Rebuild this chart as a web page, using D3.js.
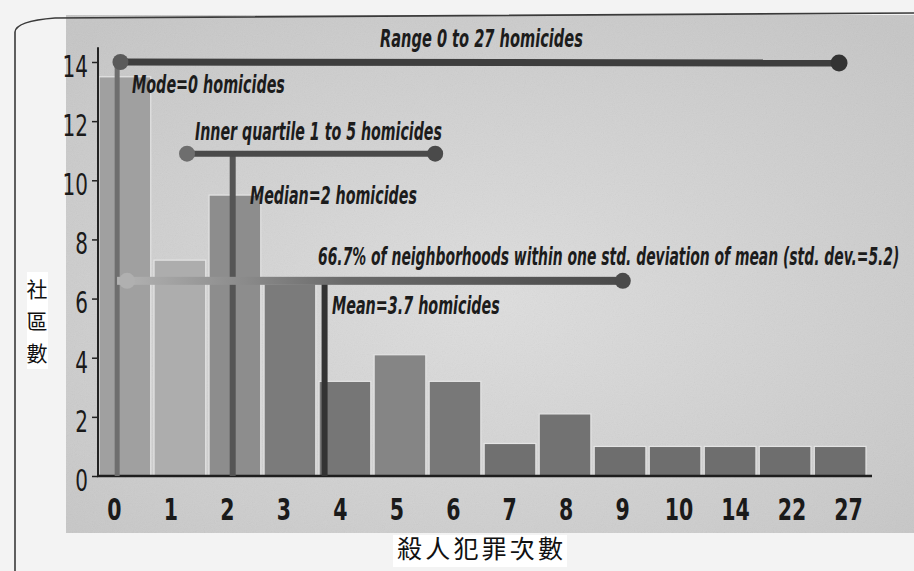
<!DOCTYPE html>
<html>
<head>
<meta charset="utf-8">
<script src="https://cdn.jsdelivr.net/npm/d3@7/dist/d3.min.js"></script>
<style>
  body { margin: 0; background: #f3f3f3; }
  svg { display: block; }
  .ann { font-family: "Liberation Sans Narrow", "DejaVu Sans Condensed", "Liberation Sans", sans-serif;
         font-weight: bold; font-style: italic; fill: #1c1c1c; font-size: 25px; }
  .num { font-family: "Liberation Sans Narrow", "DejaVu Sans Condensed", "Liberation Sans", sans-serif;
         fill: #1a1a1a; }
  .zh { font-family: "Noto Sans CJK TC", "Noto Sans CJK SC", sans-serif; fill: #111; }
</style>
</head>
<body>
<div class="chart"></div>
<script>
// homicides per neighborhood -> number of neighborhoods
var categories = ["0", "1", "2", "3", "4", "5", "6", "7", "8", "9", "10", "14", "22", "27"];
var counts = [13.5, 7.3, 9.5, 6.5, 3.2, 4.1, 3.2, 1.1, 2.1, 1, 1, 1, 1, 1];
var yTicks = [0, 2, 4, 6, 8, 10, 12, 14];

// annotation marks, in category-index units as printed in the picture
var rangeSpan = [-0.08, 12.98];
var modeAt = -0.14;
var quartileSpan = [1.13, 5.64];
var medianAt = 1.96;
var stdSpan = [0.04, 9.05];
var meanAt = 3.63;

var labels = {
  range: "Range 0 to 27 homicides",
  mode: "Mode=0 homicides",
  quartile: "Inner quartile 1 to 5 homicides",
  median: "Median=2 homicides",
  std: "66.7% of neighborhoods within one std. deviation of mean (std. dev.=5.2)",
  mean: "Mean=3.7 homicides"
};
var yTitle = ["社", "區", "數"];
var xTitle = "殺人犯罪次數";

var width = 914, height = 571;
var margin = {top: 62, right: 47, bottom: 95, left: 98};

var svg = d3.select("div.chart").append("svg")
    .attr("width", width)
    .attr("height", height);

var defs = svg.append("defs");
var panelGrad = defs.append("radialGradient")
    .attr("id", "panelGrad")
    .attr("cx", "50%").attr("cy", "55%").attr("r", "70%");
panelGrad.append("stop").attr("offset", "0%").attr("stop-color", "#dedede");
panelGrad.append("stop").attr("offset", "100%").attr("stop-color", "#c6c6c6");

var stdGrad = defs.append("linearGradient")
    .attr("id", "stdGrad")
    .attr("x1", "0%").attr("x2", "100%");
stdGrad.append("stop").attr("offset", "0%").attr("stop-color", "#b4b4b4");
stdGrad.append("stop").attr("offset", "45%").attr("stop-color", "#6a6a6a");
stdGrad.append("stop").attr("offset", "100%").attr("stop-color", "#4a4a4a");

var grain = defs.append("filter").attr("id", "grain");
grain.append("feTurbulence").attr("type", "fractalNoise")
    .attr("baseFrequency", 0.9).attr("numOctaves", 2).attr("result", "noise");
grain.append("feColorMatrix").attr("type", "saturate").attr("values", 0).attr("in", "noise").attr("result", "gray");
grain.append("feComponentTransfer").attr("in", "gray").attr("result", "soft")
  .append("feFuncA").attr("type", "linear").attr("slope", 0.12);
grain.append("feComposite").attr("in", "soft").attr("in2", "SourceGraphic").attr("operator", "in");

// printed panel
svg.append("rect")
    .attr("x", 66).attr("y", 15)
    .attr("width", width - 66).attr("height", 518)
    .attr("fill", "url(#panelGrad)");
svg.append("rect")
    .attr("x", 66).attr("y", 15)
    .attr("width", width - 66).attr("height", 518)
    .attr("fill", "#888")
    .attr("filter", "url(#grain)");

// page frame
svg.append("path")
    .attr("d", "M15,571 L15,32 Q16,21 55,18 L914,13")
    .attr("fill", "none")
    .attr("stroke", "#3a3a3a")
    .attr("stroke-width", 1.6);

var xScale = d3.scaleBand()
    .domain(categories)
    .range([margin.left + 1, width - margin.right - 1])
    .paddingInner(0.06);

var yScale = d3.scaleLinear()
    .domain([0, 14])
    .range([height - margin.bottom, margin.top]);

// index -> pixel, through the band centres
var xIndex = d3.scaleLinear()
    .domain([0, categories.length - 1])
    .range([xScale(categories[0]) + xScale.bandwidth() / 2,
            xScale(categories[categories.length - 1]) + xScale.bandwidth() / 2]);

var labelScale = d3.scalePoint()
    .domain(categories)
    .range([114, 848]);

var shade = d3.scaleOrdinal()
    .domain(categories)
    .range(["#a0a0a0", "#adadad", "#8d8d8d", "#7b7b7b", "#767676", "#858585", "#787878",
            "#707070", "#727272", "#6e6e6e", "#6e6e6e", "#6e6e6e", "#6e6e6e", "#6e6e6e"]);

svg.selectAll("rect.bar")
    .data(counts)
    .enter().append("rect")
    .attr("class", "bar")
    .attr("x", function (d, i) { return xScale(categories[i]); })
    .attr("y", function (d) { return yScale(d); })
    .attr("width", xScale.bandwidth())
    .attr("height", function (d) { return yScale(0) - yScale(d); })
    .attr("fill", function (d, i) { return shade(categories[i]); })
    .attr("stroke", "#e4e4e4")
    .attr("stroke-width", 1.2);

// axes
var yAxis = d3.axisLeft(yScale).tickValues(yTicks).tickSize(6).tickPadding(5);
var yAxis_g = svg.append("g")
    .attr("class", "y axis")
    .attr("transform", "translate(" + margin.left + ",0)")
    .call(yAxis);
yAxis_g.select(".domain").remove();
yAxis_g.selectAll("line").attr("stroke", "#222").attr("stroke-width", 1.5);
yAxis_g.selectAll("text")
    .attr("class", "num")
    .attr("font-size", 30)
    .attr("dy", "0.48em")
    .attr("transform", "scale(0.74,1)")
    .attr("x", -10 / 0.74);

svg.append("line")
    .attr("x1", margin.left).attr("x2", margin.left)
    .attr("y1", yScale(0)).attr("y2", yScale(14.5))
    .attr("stroke", "#222").attr("stroke-width", 2);

var xAxis = d3.axisBottom(labelScale).tickSize(0).tickPadding(22);
var xAxis_g = svg.append("g")
    .attr("class", "x axis")
    .attr("transform", "translate(0," + yScale(0) + ")")
    .call(xAxis);
xAxis_g.select(".domain").remove();
xAxis_g.selectAll(".tick text")
    .attr("class", "num")
    .attr("font-size", 30)
    .attr("font-weight", "bold")
    .attr("dy", "0.72em")
    .attr("transform", "scale(0.76,1)")
    .attr("x", 0);

svg.append("line")
    .attr("x1", margin.left - 1).attr("x2", 872)
    .attr("y1", yScale(0)).attr("y2", yScale(0))
    .attr("stroke", "#1e1e1e").attr("stroke-width", 2.5);

// annotation lines
function dot(cx, cy, r, color) {
  svg.append("circle").attr("cx", cx).attr("cy", cy).attr("r", r).attr("fill", color);
}

// range + mode
var rangeY = yScale(14);
svg.append("line")
    .attr("x1", xIndex(modeAt)).attr("x2", xIndex(modeAt))
    .attr("y1", rangeY).attr("y2", yScale(0))
    .attr("stroke", "#6e6e6e").attr("stroke-width", 5);
svg.append("line")
    .attr("x1", xIndex(rangeSpan[0])).attr("x2", xIndex(rangeSpan[1]))
    .attr("y1", rangeY).attr("y2", rangeY + 1)
    .attr("stroke", "#3e3e3e").attr("stroke-width", 7);
dot(xIndex(rangeSpan[0]), rangeY, 8, "#5a5a5a");
dot(xIndex(rangeSpan[1]), rangeY + 1, 8.5, "#333");

// inner quartile + median
var quartY = yScale(10.9);
svg.append("line")
    .attr("x1", xIndex(medianAt)).attr("x2", xIndex(medianAt))
    .attr("y1", quartY).attr("y2", yScale(0))
    .attr("stroke", "#555").attr("stroke-width", 6);
svg.append("line")
    .attr("x1", xIndex(quartileSpan[0])).attr("x2", xIndex(quartileSpan[1]))
    .attr("y1", quartY).attr("y2", quartY)
    .attr("stroke", "#4a4a4a").attr("stroke-width", 6);
dot(xIndex(quartileSpan[0]), quartY, 8, "#6e6e6e");
dot(xIndex(quartileSpan[1]), quartY, 8, "#4a4a4a");

// std deviation + mean
var stdY = yScale(6.6);
svg.append("line")
    .attr("x1", xIndex(meanAt)).attr("x2", xIndex(meanAt))
    .attr("y1", stdY).attr("y2", yScale(0))
    .attr("stroke", "#333").attr("stroke-width", 6);
svg.append("rect")
    .attr("x", xIndex(stdSpan[0]) - 10).attr("y", stdY - 4)
    .attr("width", xIndex(stdSpan[1]) - xIndex(stdSpan[0]) + 10).attr("height", 8)
    .attr("fill", "url(#stdGrad)");
dot(xIndex(stdSpan[0]), stdY, 8, "#b0b0b0");
dot(xIndex(stdSpan[1]), stdY, 8, "#4a4a4a");

// annotation texts, squeezed horizontally to the printed width
function note(text, x, y, len) {
  var t = svg.append("text")
    .attr("class", "ann")
    .attr("x", 0).attr("y", 0)
    .text(text);
  var natural = t.node().getComputedTextLength();
  t.attr("transform", "translate(" + x + "," + y + ") scale(" + (len / natural) + ",1)");
}
note(labels.range, 380, 47, 203);
note(labels.mode, 132, 93, 153);
note(labels.quartile, 195, 140, 247);
note(labels.median, 250, 204, 167);
note(labels.std, 318, 265, 582);
note(labels.mean, 332, 314, 168);

// chinese titles on white
svg.append("rect").attr("x", 27).attr("y", 272).attr("width", 21).attr("height", 97).attr("fill", "#fff");
svg.selectAll("text.ytitle")
    .data(yTitle)
    .enter().append("text")
    .attr("class", "zh ytitle")
    .attr("x", 37)
    .attr("y", function (d, i) { return 297 + i * 32; })
    .attr("text-anchor", "middle")
    .attr("font-size", 21)
    .text(function (d) { return d; });

svg.append("rect").attr("x", 393).attr("y", 535).attr("width", 174).attr("height", 32).attr("fill", "#fff");
svg.append("text")
    .attr("class", "zh")
    .attr("x", 480).attr("y", 558)
    .attr("text-anchor", "middle")
    .attr("font-size", 25)
    .attr("textLength", 166)
    .attr("lengthAdjust", "spacing")
    .text(xTitle);
</script>
</body>
</html>
